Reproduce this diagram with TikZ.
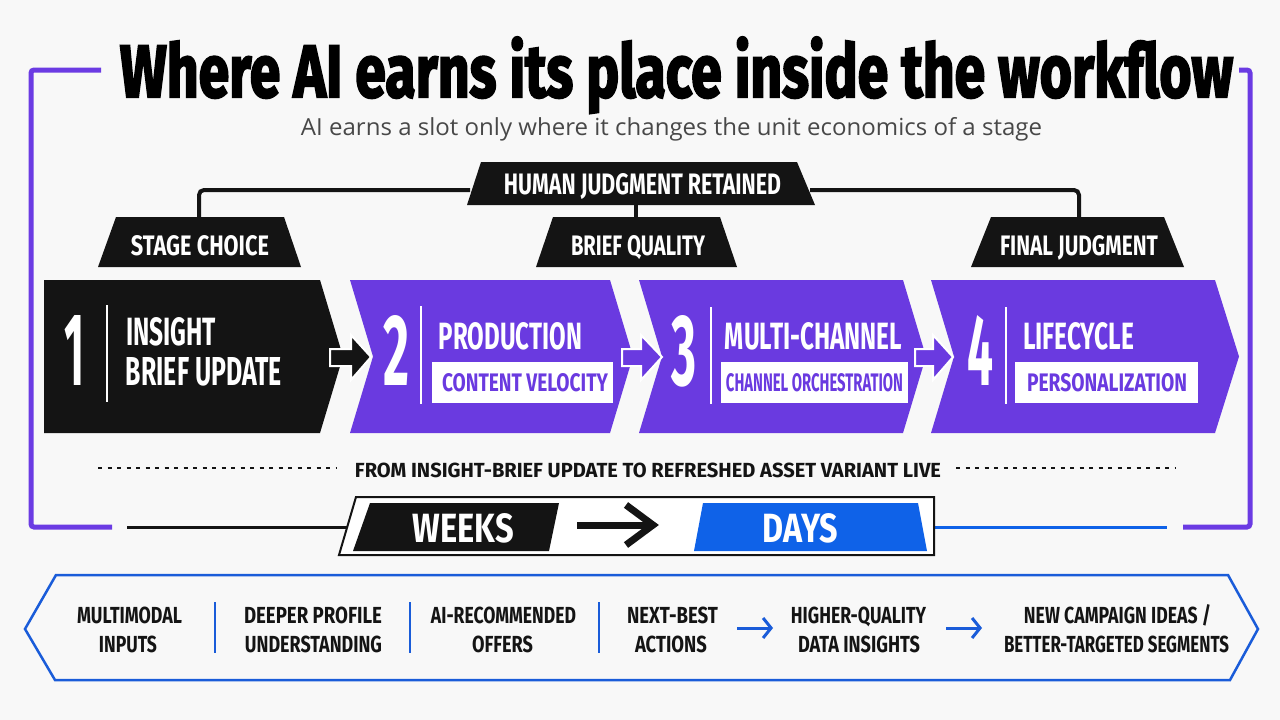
\documentclass[tikz,border=0pt]{standalone}
\usepackage{fontspec}
\usepackage{graphicx}
\setmainfont{Fira Sans}
\newfontfamily\titlef{Fira Sans}[BoldFeatures={FakeBold=3}]
\newfontfamily\subf{Open Sans}
\usetikzlibrary{arrows.meta}
\definecolor{pur}{HTML}{6A3AE0}
\definecolor{fpur}{HTML}{6B3BE3}
\definecolor{blk}{HTML}{141414}
\definecolor{dblue}{HTML}{0F62E8}
\definecolor{bblue}{HTML}{1A5CD9}
\definecolor{bg}{HTML}{F8F8F8}
\definecolor{subg}{HTML}{484848}
\newcommand\fitbox[3]{\resizebox{#1pt}{#2pt}{\bfseries #3}}
\tikzset{
  txt/.style={inner sep=0pt, anchor=base},
  wt/.style={txt, text=white},
  bt/.style={txt, text=blk},
  pt/.style={txt, text=pur},
  tagbox/.style={fill=blk},
  chev/.style={fill=pur},
  conn/.style={draw=blk, line width=4pt, rounded corners=5pt},
  frame/.style={draw=fpur, line width=5pt, rounded corners=3pt},
  divw/.style={draw=white, line width=1.5pt},
  divb/.style={draw=bblue, line width=2.5pt},
  dots/.style={draw=blk, line width=2pt, dash pattern=on 4pt off 5.5pt},
  barrow/.style={draw=bblue, line width=3pt, -{Straight Barb[length=8pt,width=20pt,line width=3pt]}},
  blockarrow/.style={line width=2pt, draw=white, line join=miter},
}
\begin{document}
\begin{tikzpicture}[x=1pt,y=-1pt]
\useasboundingbox (0,0) rectangle (1280,720);
\fill[bg] (0,0) rectangle (1280,720);

% purple frame
\draw[frame] (101,70) -- (31,70) -- (31,527) -- (112,527);
\draw[frame] (1239,70) -- (1250,70) -- (1250,527) -- (1183,527);

% title
\node[txt, text=black] (title) at (676.5,97) {\titlef\fitbox{1113}{60}{Where AI earns its place inside the workflow}};
\node[txt, text=subg] (subtitle) at (671.5,135) {\resizebox{741pt}{18pt}{\subf AI earns a slot only where it changes the unit economics of a stage}};

% tags
\fill[tagbox] (481,162) -- (797,162) -- (815,205) -- (467,205) -- cycle;
\fill[tagbox] (116,217) -- (284,217) -- (301,267) -- (98,267) -- cycle;
\fill[tagbox] (553,217) -- (720,217) -- (737,267) -- (536,267) -- cycle;
\fill[tagbox] (991,217) -- (1164,217) -- (1184,267) -- (971,267) -- cycle;
\node[wt] (hjr) at (642.5,194) {\fitbox{277}{21}{HUMAN JUDGMENT RETAINED}};
\node[wt] (stage) at (200,255) {\fitbox{138}{20}{STAGE CHOICE}};
\node[wt] (brief) at (638,255) {\fitbox{134}{20}{BRIEF QUALITY}};
\node[wt] (final) at (1079,255) {\fitbox{158}{20}{FINAL JUDGMENT}};
\coordinate (hjrL) at (470,190);
\coordinate (hjrR) at (810,190);
\coordinate (hjrB) at (636,204);
\coordinate (stageT) at (199,218);
\coordinate (briefT) at (636,218);
\coordinate (finalT) at (1079,218);
\draw[conn] (hjrL) -| (stageT);
\draw[conn] (hjrR) -| (finalT);
\draw[conn] (hjrB) -- (briefT);

% chevrons
\fill[blk] (44,280) -- (320,280) -- (343,356.5) -- (320,433) -- (44,433) -- cycle;
\fill[chev] (350,280) -- (610,280) -- (633,356.5) -- (610,433) -- (350,433) -- (373,356.5) -- cycle;
\fill[chev] (639,280) -- (903,280) -- (926,356.5) -- (903,433) -- (639,433) -- (662,356.5) -- cycle;
\fill[chev] (931,280) -- (1215,280) -- (1239,356.5) -- (1215,433) -- (931,433) -- (954,356.5) -- cycle;

% block arrows between chevrons
\filldraw[blockarrow, fill=blk] (330,349) -- (351,349) -- (351,335) -- (371,357) -- (351,380) -- (351,366) -- (330,366) -- cycle;
\filldraw[blockarrow, fill=pur] (622,349) -- (641,349) -- (641,335) -- (662,357) -- (641,380) -- (641,366) -- (622,366) -- cycle;
\filldraw[blockarrow, fill=pur] (915,349) -- (933,349) -- (933,335) -- (953,357) -- (933,380) -- (933,366) -- (915,366) -- cycle;

% dividers
\draw[divw] (107,305) -- (107,402);
\draw[divw] (421,306) -- (421,404);
\draw[divw] (711,307) -- (711,404);
\draw[divw] (1006,307) -- (1006,404);

% numbers
\node[wt] (n1) at (74.5,385) {\fitbox{20}{70}{1}};
\node[wt] (n2) at (396,385) {\fitbox{26}{70}{2}};
\node[wt] (n3) at (683.5,385) {\fitbox{25}{70}{3}};
\node[wt] (n4) at (980.5,385) {\fitbox{26}{70}{4}};

% stage headings
\node[wt] (s1a) at (171,345) {\fitbox{90}{28}{INSIGHT}};
\node[wt] (s1b) at (204,385) {\fitbox{156}{28}{BRIEF UPDATE}};
\node[wt] (s2) at (510.5,349) {\fitbox{143}{27}{PRODUCTION}};
\node[wt] (s3) at (813.5,349) {\fitbox{177}{27}{MULTI-CHANNEL}};
\node[wt] (s4) at (1078.5,349) {\fitbox{111}{27}{LIFECYCLE}};

% white sub-boxes
\fill[white] (432,362) rectangle (613,403);
\fill[white] (721,362) rectangle (908,403);
\fill[white] (1015,362) rectangle (1198,403);
\node[pt] (b2) at (525,391) {\fitbox{166}{18}{CONTENT VELOCITY}};
\node[pt] (b3) at (814.5,391) {\fitbox{177}{18}{CHANNEL ORCHESTRATION}};
\node[pt] (b4) at (1107,391) {\fitbox{160}{18}{PERSONALIZATION}};

% dotted row
\draw[dots] (98,468) -- (337,468);
\draw[dots] (956,468) -- (1175,468);
\node[bt] (from) at (648,477) {\fitbox{586}{14.5}{FROM INSIGHT-BRIEF UPDATE TO REFRESHED ASSET VARIANT LIVE}};

% weeks -> days
\draw[blk, line width=3pt] (127,527) -- (348,527);
\draw[dblue, line width=3pt] (934,527) -- (1167,527);
\filldraw[fill=white, draw=blk, line width=2pt] (356,497) -- (934,497) -- (934,555) -- (339,555) -- cycle;
\fill[blk] (370,503) -- (559,503) -- (549,551) -- (353,551) -- cycle;
\fill[dblue] (703,503) -- (918,503) -- (927,551) -- (694,551) -- cycle;
\node[wt] (weeks) at (463.5,542) {\fitbox{101}{29}{WEEKS}};
\node[wt] (days) at (800.5,542) {\fitbox{75}{29}{DAYS}};
\coordinate (wa) at (577,525);
\coordinate (wb) at (650,525);
\draw[blk, line width=7pt] (wa) -- (wb);
\draw[blk, line width=7pt, line join=miter] (626,505) -- (653,525) -- (626,545);

% bottom banner
\draw[bblue, line width=2.5pt, line join=miter] (56,575) -- (1228,575) -- (1258,629) -- (1230,680) -- (55,680) -- (25,629) -- cycle;
\draw[divb] (215,602) -- (215,653);
\draw[divb] (410,602) -- (410,653);
\draw[divb] (599,602) -- (599,653);
\node[bt] (m1a) at (129.5,623) {\fitbox{105}{16.5}{MULTIMODAL}};
\node[bt] (m1b) at (128,652) {\fitbox{58}{16.5}{INPUTS}};
\node[bt] (m2a) at (313,623) {\fitbox{138}{16.5}{DEEPER PROFILE}};
\node[bt] (m2b) at (313.5,652) {\fitbox{137}{16.5}{UNDERSTANDING}};
\node[bt] (m3a) at (503.5,623) {\fitbox{145}{16.5}{AI-RECOMMENDED}};
\node[bt] (m3b) at (502.5,652) {\fitbox{61}{16.5}{OFFERS}};
\node[bt] (m4a) at (672.5,623) {\fitbox{91}{16.5}{NEXT-BEST}};
\node[bt] (m4b) at (671,652) {\fitbox{72}{16.5}{ACTIONS}};
\node[bt] (m5a) at (858.5,623) {\fitbox{135}{16.5}{HIGHER-QUALITY}};
\node[bt] (m5b) at (859,652) {\fitbox{122}{16.5}{DATA INSIGHTS}};
\node[bt] (m6a) at (1117.5,623) {\fitbox{187}{16.5}{NEW CAMPAIGN IDEAS \smash{/}}};
\node[bt] (m6b) at (1116.5,652) {\fitbox{225}{16.5}{BETTER-TARGETED SEGMENTS}};
\coordinate (a1s) at (737,628);
\coordinate (a1e) at (773,628);
\coordinate (a2s) at (946,628);
\coordinate (a2e) at (982,628);
\draw[barrow] (a1s) -- (a1e);
\draw[barrow] (a2s) -- (a2e);
\end{tikzpicture}
\end{document}
